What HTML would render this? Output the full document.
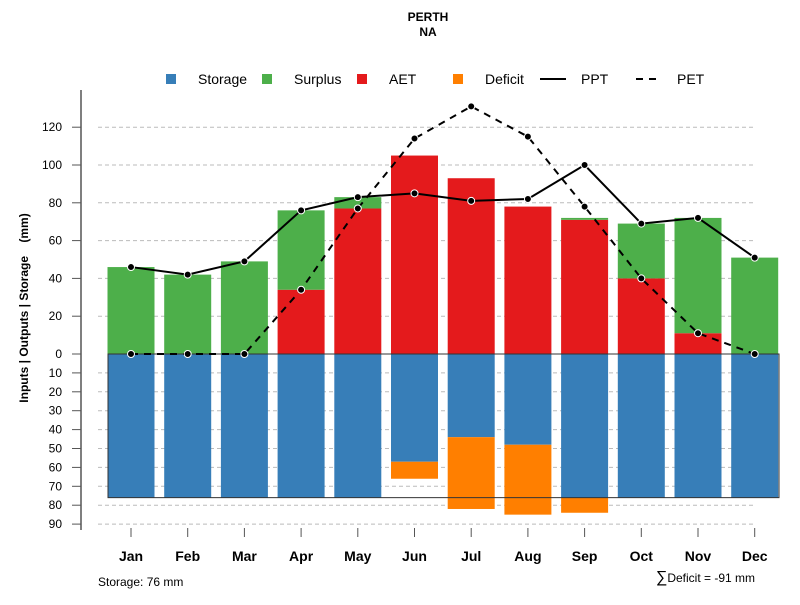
<!DOCTYPE html>
<html><head><meta charset="utf-8"><style>
body{margin:0;background:#fff;font-family:"Liberation Sans",sans-serif}
svg text{font-family:"Liberation Sans",sans-serif}
</style></head><body>
<svg id="c" width="800" height="600" xmlns="http://www.w3.org/2000/svg">
<text x="428" y="21" text-anchor="middle" font-size="12" font-weight="bold">PERTH</text>
<text x="428" y="36" text-anchor="middle" font-size="12" font-weight="bold">NA</text>
<text transform="translate(28,308) rotate(-90)" text-anchor="middle" font-size="12" font-weight="bold" xml:space="preserve">Inputs | Outputs | Storage &#160;&#160;&#160;(mm)</text>
<g id="legend">
<rect x="166" y="74" width="10" height="10" fill="#377eb8"/>
<text x="198" y="84" font-size="14">Storage</text>
<rect x="262" y="74" width="10" height="10" fill="#4daf4a"/>
<text x="294" y="84" font-size="14">Surplus</text>
<rect x="357" y="74" width="10" height="10" fill="#e41a1c"/>
<text x="389" y="84" font-size="14">AET</text>
<rect x="453" y="74" width="10" height="10" fill="#ff7f00"/>
<text x="485" y="84" font-size="14">Deficit</text>
<line x1="540" y1="79" x2="566" y2="79" stroke="#000" stroke-width="2"/>
<text x="581" y="84" font-size="14">PPT</text>
<line x1="636" y1="79" x2="662" y2="79" stroke="#000" stroke-width="2" stroke-dasharray="7,6"/>
<text x="677" y="84" font-size="14">PET</text>
</g>
<text x="98" y="586" font-size="12">Storage: 76 mm</text>
<text x="755" y="582" text-anchor="end" font-size="12"><tspan font-size="16">∑</tspan>Deficit = -91 mm</text>
</svg>
<script>
const months=["Jan","Feb","Mar","Apr","May","Jun","Jul","Aug","Sep","Oct","Nov","Dec"];
const ppt=[46,42,49,76,83,85,81,82,100,69,72,51];
const pet=[0,0,0,34,77,114,131,115,78,40,11,0];
const aet=[0,0,0,34,77,105,93,78,71,40,11,0];
const surplus=[46,42,49,42,6,0,0,0,1,29,61,51];
const storage=[76,76,76,76,76,57,44,48,76,76,76,76];
const deficit=[0,0,0,0,0,9,38,37,8,0,0,0];
const upTicks=[0,20,40,60,80,100,120];
const downTicks=[10,20,30,40,50,60,70,80,90];
const maxStorage=76;
const svg=document.getElementById('c');
const NS="http://www.w3.org/2000/svg";
const y0=354,k=1.89;
const yUp=v=>y0-v*k, yDn=v=>y0+v*k;
const xC=i=>131+i*56.7, bw=47;
function el(t,a,parent){const e=document.createElementNS(NS,t);for(const n in a)e.setAttribute(n,a[n]);(parent||svg).appendChild(e);return e;}
const grid=el('g',{});


upTicks.forEach(v=>{if(v>0){el('line',{x1:98,x2:755,y1:yUp(v),y2:yUp(v),stroke:'#bbb','stroke-dasharray':'4,3'},grid);}});
downTicks.forEach(v=>{el('line',{x1:98,x2:755,y1:yDn(v),y2:yDn(v),stroke:'#bbb','stroke-dasharray':'4,3'},grid);});
const ax=el('g',{});


el('line',{x1:81,x2:81,y1:90,y2:530,stroke:'#555','stroke-width':1.5},ax);
upTicks.forEach(v=>{el('line',{x1:72,x2:81,y1:yUp(v),y2:yUp(v),stroke:'#555'},ax);const t=el('text',{x:62,y:yUp(v)+4,'text-anchor':'end','font-size':12},ax);t.textContent=v;});
downTicks.forEach(v=>{el('line',{x1:72,x2:81,y1:yDn(v),y2:yDn(v),stroke:'#555'},ax);const t=el('text',{x:62,y:yDn(v)+4,'text-anchor':'end','font-size':12},ax);t.textContent=v;});
months.forEach((m,i)=>{
  const x=xC(i)-bw/2;
  const s=el('rect',{x:x,y:y0,width:bw,height:storage[i]*k,fill:'#377eb8'});
  
  
  if(deficit[i]>0){const d=el('rect',{x:x,y:yDn(storage[i]),width:bw,height:deficit[i]*k,fill:'#ff7f00'});
    
    }
  if(aet[i]>0){const a=el('rect',{x:x,y:yUp(aet[i]),width:bw,height:aet[i]*k,fill:'#e41a1c'});
    
    }
  if(surplus[i]>0){const g=el('rect',{x:x,y:yUp(aet[i]+surplus[i]),width:bw,height:surplus[i]*k,fill:'#4daf4a'});
    
    }
  const tk=el('line',{x1:xC(i),x2:xC(i),y1:528,y2:537,stroke:'#555'});
  
  
  const t=el('text',{x:xC(i),y:561,'text-anchor':'middle','font-size':14,'font-weight':'bold'});
  
  
  t.textContent=m;
});
const box=el('rect',{x:108,y:y0,width:671,height:maxStorage*k,fill:'none',stroke:'#333','stroke-width':1});


function series(vals,dash,name){
  const p=vals.map((v,i)=>xC(i)+','+yUp(v)).join(' ');
  const l=el('polyline',{points:p,fill:'none',stroke:'#000','stroke-width':2,'stroke-dasharray':dash});
  
  
  vals.forEach((v,i)=>{const c=el('circle',{cx:xC(i),cy:yUp(v),r:3.5,fill:'#000',stroke:'#fff','stroke-width':1});
    
    });
}
series(pet,'7,6','pet');
series(ppt,'none','ppt');
</script>
</body></html>
